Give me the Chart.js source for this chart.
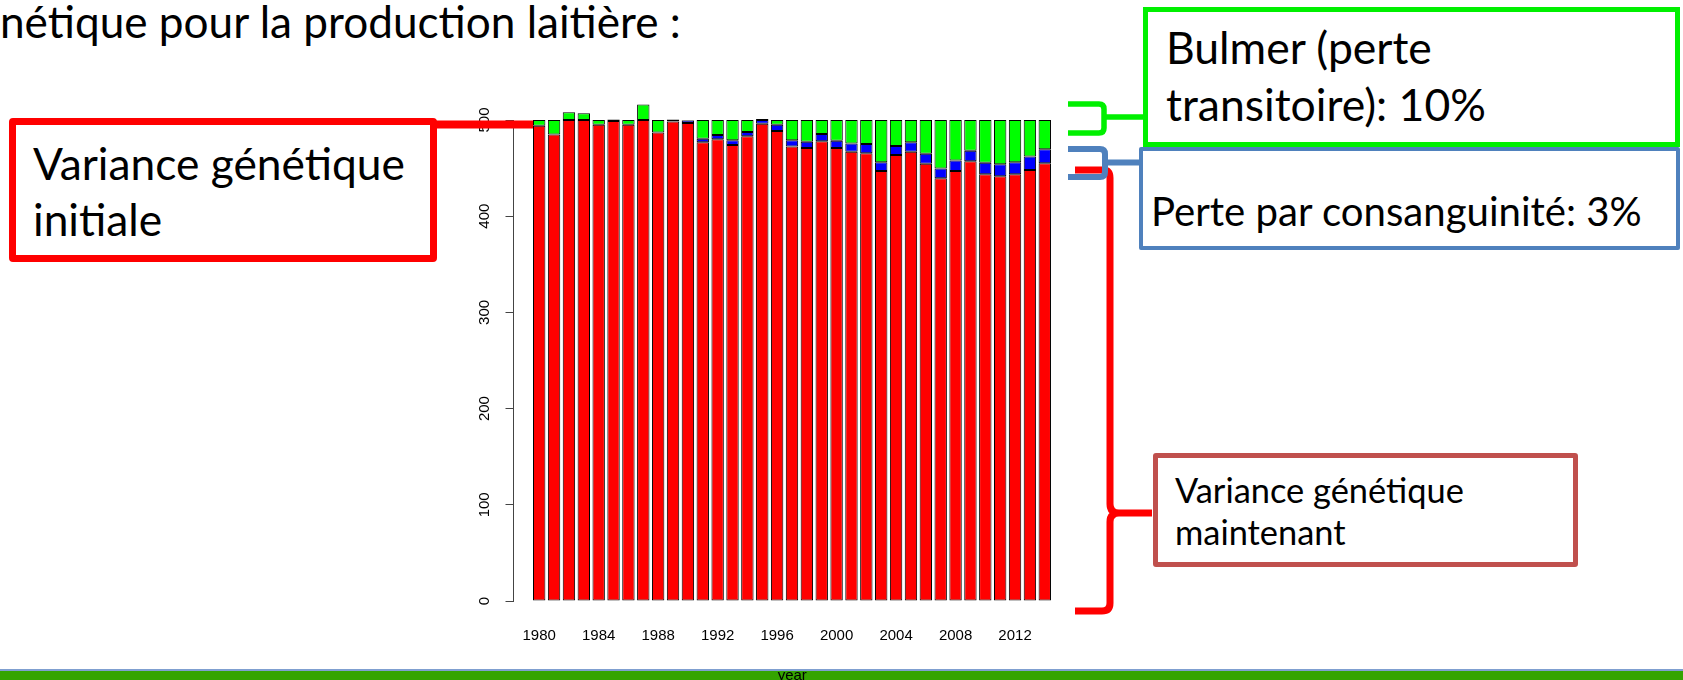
<!DOCTYPE html>
<html lang="fr">
<head>
    <meta charset="UTF-8">
    <title>Variance génétique</title>
    <script src="https://cdn.jsdelivr.net/npm/chart.js"></script>
    <style>
        html, body { margin: 0; padding: 0; background: #fff; }
        body { position: relative; width: 1683px; height: 680px; overflow: hidden; }
        .txt { position: absolute; white-space: nowrap; font-family: Lato, "Open Sans", sans-serif; line-height: 1; color: #000; z-index: 4; }
        .probe { display: inline-block; width: 0; height: 0; vertical-align: baseline; }
        .box { position: absolute; box-sizing: border-box; background: #fff; z-index: 3; }
        #chartWrap { position: absolute; left: 440px; top: 80px; width: 660px; height: 600px; z-index: 2; }
        #marks { position: absolute; left: 0; top: 0; z-index: 5; pointer-events: none; }
        .band { position: absolute; left: 0; width: 1683px; z-index: 1; }
    </style>
</head>
<body>
    <div class="band" style="top:669px;height:2px;background:#7f9fd0"></div>
    <div class="band" style="top:671px;height:9px;background:#34a400"></div>

    <div id="chartWrap"><canvas id="barChart" width="660" height="600"></canvas></div>

    <div class="txt" data-g="title" data-x="0" data-b="38" data-w="681">nétique pour la production laitière :</div>

    <div class="box" style="left:9px;top:118px;width:428px;height:144px;border:7px solid #ff0000;border-radius:4px"></div>
    <div class="txt" data-g="init" data-x="33" data-b="180" data-w="372">Variance génétique</div>
    <div class="txt" data-g="init" data-x="33" data-b="236">initiale</div>

    <div class="box" style="left:1143px;top:7px;width:537px;height:140px;border:5px solid #00f000"></div>
    <div class="txt" data-g="bulmer" data-x="1166" data-b="64">Bulmer (perte</div>
    <div class="txt" data-g="bulmer" data-x="1166" data-b="121" data-w="320">transitoire): 10%</div>

    <div class="box" style="left:1139px;top:147px;width:541px;height:103px;border:4px solid #4f81bd;border-radius:2px"></div>
    <div class="txt" data-g="consang" data-x="1151" data-b="226" data-w="491">Perte par consanguinité: 3%</div>

    <div class="box" style="left:1153px;top:453px;width:425px;height:114px;border:5px solid #c0504d;border-radius:3px"></div>
    <div class="txt" data-g="now" data-x="1175" data-b="503" data-w="289">Variance génétique</div>
    <div class="txt" data-g="now" data-x="1175" data-b="545">maintenant</div>

    <svg id="marks" width="1683" height="680" fill="none">
        <line x1="434" y1="124.5" x2="533" y2="124.5" stroke="#ff0000" stroke-width="8"/>
        <path d="M1075,170 H1103 Q1110,170 1110,178 V504 Q1110,513 1119,513 H1152 M1119,513 Q1110,513 1110,522 V603 Q1110,611 1102,611 H1075"
              stroke="#ff0000" stroke-width="7" stroke-linejoin="round"/>
        <path d="M1068,149 H1100 Q1105,149 1105,154 V172 Q1105,177 1100,177 H1068 M1105,162.5 H1140"
              stroke="#4f81bd" stroke-width="6"/>
        <path d="M1068,104 H1099 Q1104,104 1104,109 V128 Q1104,133 1099,133 H1068 M1104,117 H1144"
              stroke="#00f000" stroke-width="5.5"/>
    </svg>

    <script>
        // years of the x axis and the labels R kept on it
        const years = [1980, 1981, 1982, 1983, 1984, 1985, 1986, 1987, 1988, 1989,
                       1990, 1991, 1992, 1993, 1994, 1995, 1996, 1997, 1998, 1999,
                       2000, 2001, 2002, 2003, 2004, 2005, 2006, 2007, 2008, 2009,
                       2010, 2011, 2012, 2013, 2014];
        const tickYears = [1980, 1984, 1988, 1992, 1996, 2000, 2004, 2008, 2012];
        const yTicks = [0, 100, 200, 300, 400, 500];

        // red: variance génétique maintenant
        const varMaintenant = [494, 485, 500, 500, 495, 499, 495, 500, 487, 498.5,
                               497, 477, 480, 474, 483, 496, 488.5, 472.5, 471, 478,
                               471, 467, 465.5, 447, 463.5, 467, 454.5, 439.5, 447, 457,
                               443.5, 441.5, 443.5, 448, 455];
        // blue: perte par consanguinité
        const perteConsang = [0, 0, 0, 0, 0, 1, 0, 0, 0, 1.5,
                              2.5, 3.5, 4.5, 5, 4.5, 4, 6.5, 6.5, 6.5, 7.5,
                              7.5, 8.5, 9.5, 9, 9.5, 10, 10.5, 10, 11, 11,
                              12, 12.5, 12.5, 14, 14.5];
        // green: Bulmer (perte transitoire)
        const perteBulmer = [6, 15, 8, 7, 5, 0.5, 5, 16, 13, 0.5,
                             0.5, 19.5, 15.5, 21, 12.5, 1, 5, 21, 22.5, 14.5,
                             21.5, 24.5, 25, 44, 27, 23, 35, 50.5, 42, 32,
                             44.5, 46, 44, 38, 30.5];

        // slide text: one font size per group, fitted on the line that has a width
        function layoutText() {
            const groups = {};
            document.querySelectorAll('.txt').forEach(el => {
                (groups[el.dataset.g] = groups[el.dataset.g] || []).push(el);
            });
            Object.values(groups).forEach(els => {
                const ref = els.find(e => e.dataset.w);
                ref.style.fontSize = '100px';
                const size = 100 * Number(ref.dataset.w) / ref.getBoundingClientRect().width;
                els.forEach(el => {
                    el.style.fontSize = size + 'px';
                    el.style.left = el.dataset.x + 'px';
                    el.style.top = '0px';
                    let probe = el.querySelector('.probe');
                    if (!probe) {
                        probe = document.createElement('span');
                        probe.className = 'probe';
                        el.appendChild(probe);
                    }
                    const off = probe.getBoundingClientRect().top - el.getBoundingClientRect().top;
                    el.style.top = (Number(el.dataset.b) - off) + 'px';
                });
            });
        }
        layoutText();
        if (document.fonts) document.fonts.ready.then(layoutText);

        const axisFont = { family: '"Liberation Sans", Arial, sans-serif', size: 15 };

        // R draws the y labels turned parallel to the axis
        const yLabels = {
            id: 'yLabels',
            afterDraw(chart) {
                const ctx = chart.ctx;
                const ys = chart.scales.y;
                ctx.save();
                ctx.font = '15px "Liberation Sans", Arial, sans-serif';
                ctx.fillStyle = '#000';
                ctx.textAlign = 'center';
                ctx.textBaseline = 'middle';
                ys.ticks.forEach(t => {
                    ctx.save();
                    ctx.translate(ys.right - 28.5, ys.getPixelForValue(t.value));
                    ctx.rotate(-Math.PI / 2);
                    ctx.fillText(String(t.value), 0, 0);
                    ctx.restore();
                });
                ctx.restore();
            }
        };

        const toPoints = vals => vals.map((v, i) => ({ x: years[i], y: v }));
        const barStyle = {
            borderColor: '#000',
            borderWidth: 1,
            borderSkipped: false,
            categoryPercentage: 1,
            barPercentage: 1 / 1.2,
            clip: false
        };

        new Chart(document.getElementById('barChart'), {
            type: 'bar',
            data: {
                datasets: [
                    { label: 'Variance génétique maintenant', data: toPoints(varMaintenant), backgroundColor: '#ff0000', ...barStyle },
                    { label: 'Perte par consanguinité', data: toPoints(perteConsang), backgroundColor: '#0000ff', ...barStyle },
                    { label: 'Bulmer', data: toPoints(perteBulmer), backgroundColor: '#00ff00', ...barStyle }
                ]
            },
            options: {
                responsive: false,
                animation: false,
                layout: { padding: { left: 0, top: 40, right: 29, bottom: 0 } },
                plugins: { legend: { display: false }, tooltip: { enabled: false } },
                scales: {
                    x: {
                        type: 'linear',
                        min: 1978.272,
                        max: 2015.763,
                        stacked: true,
                        offset: false,
                        grid: { display: false, drawTicks: false },
                        border: { display: false },
                        ticks: {
                            color: '#000',
                            font: axisFont,
                            padding: 26,
                            minRotation: 0,
                            maxRotation: 0,
                            autoSkip: false,
                            callback: v => String(v)
                        },
                        afterBuildTicks: s => { s.ticks = tickYears.map(v => ({ value: v })); },
                        afterFit: s => { s.height = 79; },
                        title: { display: true, text: 'year', color: '#000', font: { ...axisFont, lineHeight: 0.6 }, padding: 0 }
                    },
                    y: {
                        min: 0,
                        max: 500,
                        stacked: true,
                        ticks: { display: false },
                        afterBuildTicks: s => { s.ticks = yTicks.map(v => ({ value: v })); },
                        afterFit: s => { s.width = 73.5; },
                        grid: { drawOnChartArea: false, drawTicks: true, tickLength: 8, color: '#444' },
                        border: { display: true, color: '#444' }
                    }
                }
            },
            plugins: [yLabels]
        });
    </script>
</body>
</html>
